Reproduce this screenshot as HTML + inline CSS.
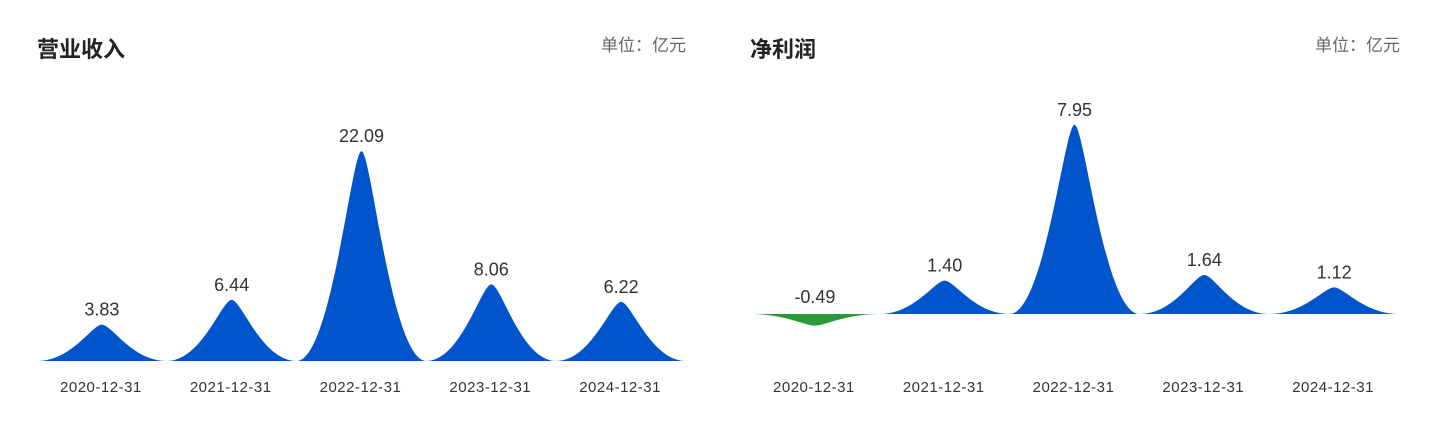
<!DOCTYPE html>
<html><head><meta charset="utf-8"><style>
html,body{margin:0;padding:0;background:#fff;}
svg{display:block;}
</style></head><body>
<svg width="1436" height="430" xmlns="http://www.w3.org/2000/svg" font-family="Liberation Sans, Noto Sans CJK SC, sans-serif">
<rect width="1436" height="430" fill="#fff"/>
<text x="37" y="57" font-size="22" font-weight="bold" fill="#222">营业收入</text>
<text x="686" y="51" font-size="17" fill="#666" text-anchor="end">单位：亿元</text>
<text x="750" y="57" font-size="22" font-weight="bold" fill="#222">净利润</text>
<text x="1400" y="51" font-size="17" fill="#666" text-anchor="end">单位：亿元</text>
<g id="g"></g>
</svg>
<script>
var NS="http://www.w3.org/2000/svg",g=document.getElementById("g");
function el(t,a,txt){var e=document.createElementNS(NS,t);for(var k in a)e.setAttribute(k,a[k]);if(txt)e.textContent=txt;g.appendChild(e);return e;}
var dates=["2020-12-31","2021-12-31","2022-12-31","2023-12-31","2024-12-31"];
function chart(x0,base,scale,vals,labs){
 var w=129.8;
 for(var i=0;i<5;i++){
  var a=x0+i*w,b=a+w,c=(a+b)/2,top=base-vals[i]*scale;
  var d="M"+a+","+base+" C"+(c-30)+","+base+" "+(c-10)+","+top+" "+c+","+top+" C"+(c+10)+","+top+" "+(c+30)+","+base+" "+b+","+base+" Z";
  el("path",{d:d,fill:vals[i]<0?"#2a9a3a":"#0055cc"});
  var ty=vals[i]<0?base-11:top-9;
  el("text",{x:c,y:ty,"font-size":18,fill:"#333","text-anchor":"middle"},labs[i]);
  el("text",{x:c-1,y:base+(x0<700?31:78),"font-size":15,"letter-spacing":"0.5",fill:"#333","text-anchor":"middle"},dates[i]);
 }
}
chart(37,361,9.5,[3.83,6.44,22.09,8.06,6.22],["3.83","6.44","22.09","8.06","6.22"]);
chart(750,314,23.8,[-0.49,1.40,7.95,1.64,1.12],["-0.49","1.40","7.95","1.64","1.12"]);
</script>
</body></html>
